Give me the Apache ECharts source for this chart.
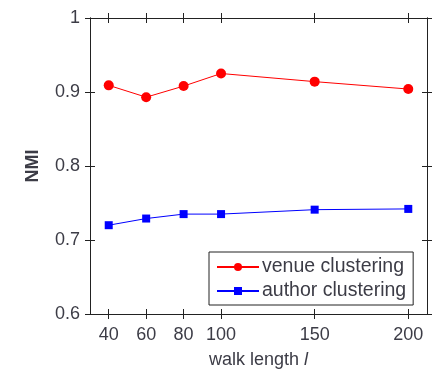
<!DOCTYPE html>
<html>
<head>
<meta charset="utf-8">
<style>
  html, body { margin: 0; padding: 0; background: #fff; }
  #chart { width: 432px; height: 369px; }
</style>
<script src="https://cdn.jsdelivr.net/npm/echarts@6/dist/echarts.min.js"></script>
</head>
<body>
<div id="chart"></div>
<script>
// Walk lengths tested on the x axis
const walkLengths = [40, 60, 80, 100, 150, 200];
// NMI scores for each clustering task
const venueNMI  = [0.909, 0.893, 0.908, 0.925, 0.914, 0.904];
const authorNMI = [0.720, 0.729, 0.735, 0.735, 0.741, 0.742];
// Tick values
const xTicks = [40, 60, 80, 100, 150, 200];
const yTicks = [0.6, 0.7, 0.8, 0.9, 1];

const FONT = 'Liberation Sans, Arial, Helvetica, sans-serif';
const TEXT = '#3c3c46';
const AXIS = '#222';
const FS = 18;

const chart = echarts.init(document.getElementById('chart'), null, { renderer: 'canvas' });

// Each frame side gets two axes: one with inward ticks, one with outward ticks,
// so the ticks cross the frame line.
function xAxisDef(position, inside, showLabel) {
  return {
    type: 'value', position: position, min: 30, max: 210,
    splitLine: { show: false },
    axisLine: { show: true, onZero: false, lineStyle: { color: AXIS, width: 1 } },
    axisTick: { show: true, inside: inside, length: 5, customValues: xTicks,
                lineStyle: { color: AXIS, width: 1 } },
    axisLabel: { show: showLabel, customValues: xTicks, margin: 12,
                 fontFamily: FONT, fontSize: FS, color: TEXT },
    name: showLabel ? '{n|walk length }{i|l}' : '',
    nameLocation: 'middle', nameGap: 37,
    nameTextStyle: {
      rich: {
        n: { fontFamily: FONT, fontSize: FS, color: TEXT },
        i: { fontFamily: FONT, fontSize: FS, color: TEXT, fontStyle: 'italic' }
      }
    }
  };
}

function yAxisDef(position, inside, showLabel) {
  return {
    type: 'value', position: position,
    min: yTicks[0], max: yTicks[yTicks.length - 1], interval: 0.1,
    splitLine: { show: false },
    axisLine: { show: true, onZero: false, lineStyle: { color: AXIS, width: 1 } },
    axisTick: { show: true, inside: inside, length: 5, lineStyle: { color: AXIS, width: 1 } },
    axisLabel: {
      show: showLabel, margin: 10, fontFamily: FONT, fontSize: FS, color: TEXT,
      formatter: v => {
        const r = Math.round(v * 10) / 10;
        return r === 1 ? '1' : r.toFixed(1);
      }
    },
    name: showLabel ? 'NMI' : '',
    nameLocation: 'middle', nameGap: 48,
    nameTextStyle: { fontFamily: FONT, fontSize: FS, color: TEXT, fontWeight: 'bold' }
  };
}

chart.setOption({
  animation: false,
  backgroundColor: '#fff',
  grid: { left: 90, top: 18, right: 5, bottom: 55, containLabel: false, outerBoundsMode: 'none' },
  xAxis: [
    xAxisDef('bottom', true, true),
    xAxisDef('bottom', false, false),
    xAxisDef('top', true, false),
    xAxisDef('top', false, false)
  ],
  yAxis: [
    yAxisDef('left', true, true),
    yAxisDef('left', false, false),
    yAxisDef('right', true, false),
    yAxisDef('right', false, false)
  ],
  legend: {
    left: 209, top: 252,
    orient: 'vertical',
    backgroundColor: '#fff',
    borderColor: '#222', borderWidth: 1, borderRadius: 0,
    padding: [5, 7, 4, 7],
    itemWidth: 42, itemHeight: 10, itemGap: 4,
    textStyle: { fontFamily: FONT, fontSize: 19.5, color: TEXT, padding: [0, 0, 0, -2] },
    data: ['venue clustering', 'author clustering']
  },
  series: [
    {
      name: 'venue clustering', type: 'line',
      data: walkLengths.map((x, i) => [x, venueNMI[i]]),
      symbol: 'circle', symbolSize: 10,
      itemStyle: { color: '#ff0000' },
      lineStyle: { color: '#ff0000', width: 1 }
    },
    {
      name: 'author clustering', type: 'line',
      data: walkLengths.map((x, i) => [x, authorNMI[i]]),
      symbol: 'rect', symbolSize: 8,
      itemStyle: { color: '#0000ff' },
      lineStyle: { color: '#0000ff', width: 1 }
    }
  ]
});
</script>
</body>
</html>
